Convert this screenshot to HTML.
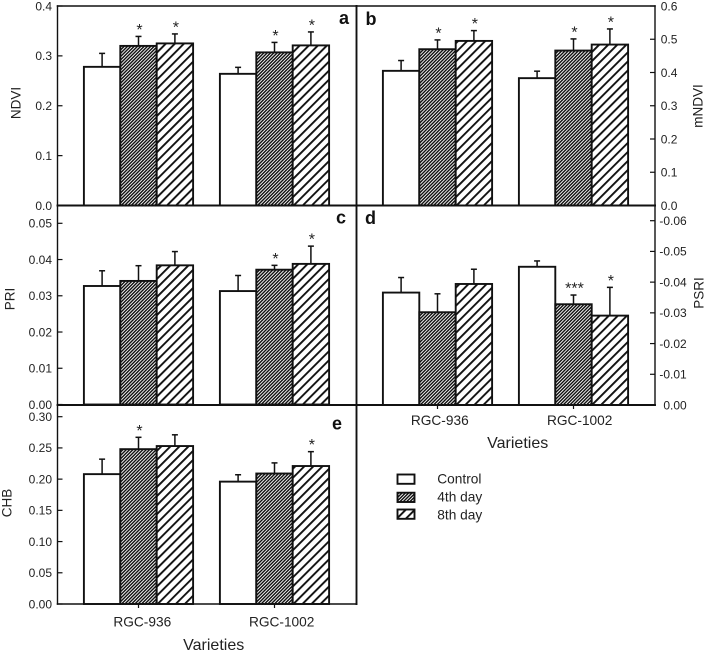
<!DOCTYPE html>
<html lang="en">
<head>
<meta charset="utf-8">
<title>Vegetation indices by variety</title>
<style>
html,body{margin:0;padding:0;background:#fff;}
svg{display:block;}
text{font-family:"Liberation Sans",Arial,sans-serif;fill:#222;}
</style>
</head>
<body>
<svg id="chart" xmlns="http://www.w3.org/2000/svg" width="709" height="655" viewBox="0 0 709 655">
<defs>
<pattern id="hatch-dense" patternUnits="userSpaceOnUse" width="2.35" height="8" patternTransform="rotate(45)">
<rect width="2.35" height="8" fill="#fff"/>
<rect width="1.45" height="8" fill="#111"/>
</pattern>
<pattern id="hatch-wide" patternUnits="userSpaceOnUse" width="6.4" height="8" patternTransform="rotate(45)">
<rect width="6.4" height="8" fill="#fff"/>
<rect width="1.9" height="8" fill="#111"/>
</pattern>
</defs>
</svg>
<script>
const categories = ['RGC-936', 'RGC-1002'];
const seriesNames = ['Control', '4th day', '8th day'];

const ndviValues = [0.278, 0.320, 0.325, 0.264, 0.307, 0.321];
const ndviErrors = [0.027, 0.019, 0.019, 0.013, 0.020, 0.027];
const ndviStars = [0, 1, 1, 0, 1, 1];
const ndviTicks = ['0.0', '0.1', '0.2', '0.3', '0.4'];

const mndviValues = [0.405, 0.470, 0.495, 0.383, 0.466, 0.484];
const mndviErrors = [0.031, 0.028, 0.031, 0.021, 0.035, 0.047];
const mndviStars = [0, 1, 1, 0, 1, 1];
const mndviTicks = ['0.0', '0.1', '0.2', '0.3', '0.4', '0.5', '0.6'];

const priValues = [0.0327, 0.0341, 0.0384, 0.0313, 0.0372, 0.0388];
const priErrors = [0.0042, 0.0042, 0.0038, 0.0043, 0.0012, 0.0049];
const priStars = [0, 0, 0, 0, 1, 1];
const priTicks = ['0.00', '0.01', '0.02', '0.03', '0.04', '0.05'];

const psriValues = [-0.0366, -0.0302, -0.0394, -0.0450, -0.0328, -0.0291];
const psriErrors = [-0.0049, -0.0060, -0.0048, -0.0019, -0.0030, -0.0092];
const psriStars = [0, 0, 0, 0, 3, 1];
const psriTicks = ['0.00', '-0.01', '-0.02', '-0.03', '-0.04', '-0.05', '-0.06'];

const chbValues = [0.208, 0.248, 0.253, 0.196, 0.209, 0.221];
const chbErrors = [0.024, 0.019, 0.018, 0.011, 0.017, 0.023];
const chbStars = [0, 1, 0, 0, 0, 1];
const chbTicks = ['0.00', '0.05', '0.10', '0.15', '0.20', '0.25', '0.30'];

const NS = 'http://www.w3.org/2000/svg';
const svg = document.getElementById('chart');
const fills = ['#fff', 'url(#hatch-dense)', 'url(#hatch-wide)'];

function mk(tag, attrs, parent) {
  const el = document.createElementNS(NS, tag);
  for (const k in attrs) el.setAttribute(k, attrs[k]);
  (parent || svg).appendChild(el);
  return el;
}
function label(str, attrs, parent) {
  const el = mk('text', attrs, parent);
  el.textContent = str;
  return el;
}
function slug(s) {
  return s.toLowerCase().replace(/\s+/g, '-');
}

const panels = [
  { key: 'ndvi', values: ndviValues, errors: ndviErrors, stars: ndviStars, ticks: ndviTicks,
    left: 57.5, right: 356.5, top: 6, bottom: 205.5, yTop: 6, side: 'left', tickEdge: 52,
    title: 'NDVI', titleX: 16, titleY: 103, letter: 'a', letterX: 339, letterY: 24 },
  { key: 'mndvi', values: mndviValues, errors: mndviErrors, stars: mndviStars, ticks: mndviTicks,
    left: 356.5, right: 655, top: 6, bottom: 205.5, yTop: 6, side: 'right', tickEdge: 660.7,
    title: 'mNDVI', titleX: 698, titleY: 106, letter: 'b', letterX: 365.5, letterY: 25 },
  { key: 'pri', values: priValues, errors: priErrors, stars: priStars, ticks: priTicks,
    left: 57.5, right: 356.5, top: 205.5, bottom: 404.5, yTop: 223.3, side: 'left', tickEdge: 52,
    title: 'PRI', titleX: 10, titleY: 299, letter: 'c', letterX: 336, letterY: 223.5 },
  { key: 'psri', values: psriValues, errors: psriErrors, stars: psriStars, ticks: psriTicks,
    left: 356.5, right: 655, top: 205.5, bottom: 405, yTop: 220.7, side: 'right', tickEdge: 686.7,
    title: 'PSRI', titleX: 699, titleY: 293, letter: 'd', letterX: 365, letterY: 224,
    xTicks: true, xLabelX: [439.8, 579.7], xLabelY: 425, xTitleX: 517.7, xTitleY: 448 },
  { key: 'chb', values: chbValues, errors: chbErrors, stars: chbStars, ticks: chbTicks,
    left: 57.5, right: 356.5, top: 405, bottom: 604, yTop: 416.7, side: 'left', tickEdge: 52,
    title: 'CHB', titleX: 7, titleY: 503, letter: 'e', letterX: 332, letterY: 429.5,
    xTicks: true, xLabelX: [142.3, 281.7], xLabelY: 626.7, xTitleX: 213.7, xTitleY: 650 }
];

const groupOffsets = [81, 217];
const barWidth = 36.4;

panels.forEach(function (p) {
  const g = mk('g', {});
  
  

  const maxTick = Number(p.ticks[p.ticks.length - 1]);
  const yScale = function (v) {
    return p.bottom - (v / maxTick) * (p.bottom - p.yTop);
  };
  const xScale = function (groupIndex, seriesIndex) {
    return p.left + groupOffsets[groupIndex] + (seriesIndex - 1.5) * barWidth;
  };

  p.values.forEach(function (v, i) {
    const gi = Math.floor(i / seriesNames.length);
    const si = i % seriesNames.length;
    const x = xScale(gi, si);
    const yv = yScale(v);
    const yErr = yScale(v + p.errors[i]);
    const cx = x + barWidth / 2;

    const errLine = mk('line', { x1: cx, x2: cx, y1: yv, y2: yErr, stroke: '#111', 'stroke-width': 1.5 }, g);
    
    
    const errCap = mk('line', { x1: cx - 3, x2: cx + 3, y1: yErr, y2: yErr, stroke: '#111', 'stroke-width': 1.5 }, g);
    
    

    const bar = mk('rect', { x: x, y: yv, width: barWidth, height: p.bottom - yv, fill: fills[si], stroke: '#111', 'stroke-width': 1.9 }, g);
    
    

    if (p.stars[i] > 0) {
      const star = label('*'.repeat(p.stars[i]), { x: cx + 1, y: yErr - 1.5, 'text-anchor': 'middle', 'font-size': 16 }, g);
      
      
    }
  });

  p.ticks.forEach(function (t) {
    const y = yScale(Number(t));
    const axisX = p.side === 'left' ? p.left : p.right;
    const inward = p.side === 'left' ? 5 : -5;
    const tick = mk('line', { x1: axisX, x2: axisX + inward, y1: y, y2: y, stroke: '#111', 'stroke-width': 1.2 }, g);
    
    
    const anchor = (p.side === 'left' || p.key === 'psri') ? 'end' : 'start';
    const tl = label(t, { x: p.tickEdge, y: y + 4.3, 'text-anchor': anchor, 'font-size': 12 }, g);
    
    
  });

  const titleEl = label(p.title, { x: p.titleX, y: p.titleY, 'text-anchor': 'middle', 'dominant-baseline': 'central', 'font-size': 13.5, transform: 'rotate(-90 ' + p.titleX + ' ' + p.titleY + ')' }, g);
  
  

  const letterEl = label(p.letter, { x: p.letterX, y: p.letterY, 'font-size': 18, 'font-weight': 'bold', style: 'fill:#111' }, g);
  
  

  if (p.xTicks) {
    categories.forEach(function (c, gi) {
      const tx = p.left + groupOffsets[gi];
      const xt = mk('line', { x1: tx, x2: tx, y1: p.bottom, y2: p.bottom + 4, stroke: '#111', 'stroke-width': 1.2 }, g);
      
      
      const xl = label(c, { x: p.xLabelX[gi], y: p.xLabelY, 'text-anchor': 'middle', 'font-size': 13.7 }, g);
      
      
    });
    const xTitle = label('Varieties', { x: p.xTitleX, y: p.xTitleY, 'text-anchor': 'middle', 'font-size': 16 }, g);
    
    
  }
});

function frameLine(name, x1, y1, x2, y2, w) {
  const l = mk('line', { x1: x1, y1: y1, x2: x2, y2: y2, stroke: '#111', 'stroke-width': w, 'stroke-linecap': 'square' });
  
  
}
frameLine('frame-top', 57.5, 6, 655, 6, 1.5);
frameLine('frame-left', 57.5, 6, 57.5, 604, 1.4);
frameLine('frame-middle-vertical', 356.5, 6, 356.5, 604, 1.9);
frameLine('frame-right', 655, 6, 655, 405, 1.4);
frameLine('frame-row-1-bottom', 57.5, 205.5, 655, 205.5, 2);
frameLine('frame-row-2-bottom', 57.5, 405, 655, 405, 1.9);
frameLine('frame-row-3-bottom', 57.5, 604, 356.5, 604, 1.5);

const legendBoxY = [474.5, 492.7, 509.5];
const legendTextY = [483.3, 501.7, 519.3];
const legend = mk('g', {});


seriesNames.forEach(function (name, i) {
  const box = mk('rect', { x: 397.5, y: legendBoxY[i], width: 17, height: 9.3, fill: fills[i], stroke: '#111', 'stroke-width': 1.9 }, legend);
  
  
  const txt = label(name, { x: 437.3, y: legendTextY[i], 'font-size': 13.7 }, legend);
  
  
});
</script>
</body>
</html>
